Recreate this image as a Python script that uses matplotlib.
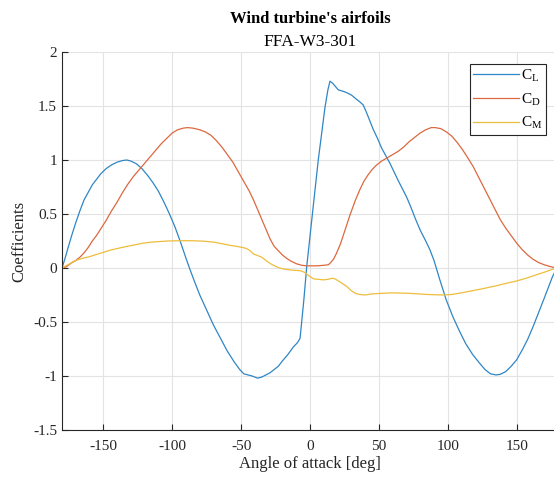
import numpy as np
import matplotlib
matplotlib.use('Agg')
import matplotlib.pyplot as plt

plt.rcParams['font.family'] = ['Liberation Serif', 'DejaVu Serif']
plt.rcParams['mathtext.fontset'] = 'custom'
plt.rcParams['mathtext.rm'] = 'Liberation Serif'
plt.rcParams['mathtext.it'] = 'Liberation Serif'
plt.rcParams['axes.unicode_minus'] = False

# lift coefficient
aoa_cl = [-180, -178, -176, -173, -170, -167, -164, -161, -158, -155, -152, -148, -144,
          -140, -136, -133, -130, -126, -122, -118, -114, -110, -106, -102, -98, -94,
          -90, -87.5, -84, -80, -75, -70, -65, -60, -55, -51, -48, -45, -42, -38, -35,
          -32, -29, -26, -23, -20, -16, -12, -9, -7.2, -4.5, -2.4, 2, 6, 10.9, 13,
          14.5, 16.5, 18.5, 20.5, 23, 25.4, 28, 30.2, 33, 36, 38.6, 41, 43.5, 46, 49,
          52, 55, 58, 61, 64, 67.6, 70, 73, 77, 80, 84, 87, 90, 94, 99, 104, 108.7,
          113, 118, 123, 127, 131, 135, 138, 142, 146, 150, 154, 158, 162, 166, 170,
          173, 176, 180]
cl = [0, 0.08, 0.17, 0.3, 0.42, 0.53, 0.63, 0.7, 0.77, 0.82, 0.87, 0.92, 0.955,
      0.98, 0.995, 1.0, 0.99, 0.965, 0.92, 0.86, 0.79, 0.71, 0.61, 0.5, 0.38, 0.24,
      0.09, 0.0, -0.12, -0.25, -0.39, -0.53, -0.65, -0.77, -0.87, -0.94, -0.98, -0.99, -1.0, -1.02, -1.01,
      -0.99, -0.97, -0.94, -0.91, -0.86, -0.8, -0.73, -0.69, -0.65, -0.3, 0.01, 0.53, 1.0, 1.49, 1.65,
      1.73, 1.71, 1.68, 1.65, 1.64, 1.63, 1.615, 1.6, 1.57, 1.54, 1.51, 1.44, 1.36, 1.28, 1.2,
      1.11, 1.04, 0.97, 0.89, 0.81, 0.72, 0.66, 0.57, 0.44, 0.35, 0.25, 0.17, 0.07, -0.1, -0.3, -0.46, -0.59,
      -0.7, -0.8, -0.88, -0.94, -0.98, -0.99, -0.985, -0.96, -0.91, -0.85, -0.76, -0.66, -0.54, -0.41, -0.28,
      -0.18, -0.08, 0.02]

# drag coefficient
aoa_cd = [-180, -177, -174, -170, -167, -164, -161, -158, -155, -152, -148, -144, -140,
          -136, -132, -128, -124, -120, -116, -112, -108, -104, -100, -96, -92, -89,
          -85, -80, -76, -72, -68, -64, -60, -56, -52, -48, -44, -41, -38, -35, -32,
          -29, -26, -23, -20, -17, -14, -10, -6, -2.4, 5, 10, 13.3, 15, 17, 19, 22,
          25.4, 29, 33, 36, 39, 42, 45, 48, 52, 56, 60, 64, 68, 72, 76, 80, 84, 88,
          91, 95, 99, 103, 107, 111, 115, 118.4, 122, 126, 130, 134, 138, 142, 146,
          150, 154, 158, 162, 166, 170, 174, 177, 180]
cd = [0, 0.01, 0.04, 0.07, 0.1, 0.14, 0.19, 0.25, 0.3, 0.36, 0.44, 0.53, 0.61,
      0.7, 0.78, 0.85, 0.91, 0.97, 1.03, 1.09, 1.15, 1.2, 1.25, 1.28, 1.295, 1.3,
      1.295, 1.28, 1.26, 1.23, 1.18, 1.12, 1.05, 0.98, 0.89, 0.8, 0.71, 0.63, 0.54, 0.45, 0.36,
      0.27, 0.2, 0.16, 0.12, 0.09, 0.065, 0.04, 0.025, 0.02, 0.02, 0.025, 0.03, 0.05, 0.08, 0.13, 0.22,
      0.35, 0.49, 0.63, 0.72, 0.8, 0.86, 0.91, 0.95, 0.99, 1.02, 1.05, 1.08, 1.12, 1.17, 1.21, 1.25, 1.28, 1.3,
      1.3, 1.29, 1.26, 1.22, 1.16, 1.09, 1.01, 0.94, 0.85, 0.75, 0.65, 0.55, 0.45, 0.37, 0.3,
      0.23, 0.17, 0.12, 0.08, 0.05, 0.03, 0.015, 0.005, 0]

# moment coefficient
aoa_cm = [-180, -175, -170, -165, -160, -155, -150, -145, -140, -133, -127, -121, -115,
          -109, -103, -97, -90, -84, -77, -70, -64, -58, -53, -49, -46, -43.5, -41,
          -38, -35, -33, -31, -28, -25, -22, -19, -13, -7, -4, -1, 2.4, 6, 9.7, 13,
          16, 18, 20, 23, 26.6, 30, 33, 36, 40, 45, 51, 60, 72.5, 85, 96, 103, 110,
          118, 126, 135, 143, 150, 158, 165, 171, 176, 180]
cm = [0, 0.035, 0.07, 0.09, 0.105, 0.125, 0.145, 0.165, 0.18, 0.2, 0.215, 0.23, 0.24,
      0.245, 0.25, 0.252, 0.253, 0.252, 0.248, 0.24, 0.225, 0.21, 0.2, 0.19, 0.18, 0.16, 0.13,
      0.115, 0.1, 0.08, 0.06, 0.035, 0.015, 0.0, -0.01, -0.02, -0.025, -0.04, -0.07, -0.1, -0.105, -0.11, -0.105,
      -0.095, -0.1, -0.115, -0.14, -0.17, -0.21, -0.235, -0.245, -0.25, -0.24, -0.235, -0.23, -0.235, -0.245, -0.25, -0.245, -0.23,
      -0.21, -0.19, -0.165, -0.14, -0.12, -0.09, -0.06, -0.035, -0.012, 0]

xticks = [-150, -100, -50, 0, 50, 100, 150]
yticks = [-1.5, -1, -0.5, 0, 0.5, 1, 1.5, 2]
ytick_labels = ['-1.5', '-1', '-0.5', '0', '0.5', '1', '1.5', '2']

fig = plt.figure(figsize=(5.54, 4.78), dpi=100)
ax = fig.add_axes([62/554, 48/478, 496/554, 378/478])

ax.plot(aoa_cl, cl, color='#2f86c6', lw=0.9, label=r'C$_\mathrm{L}$')
ax.plot(aoa_cd, cd, color='#dc6840', lw=0.9, label=r'C$_\mathrm{D}$')
ax.plot(aoa_cm, cm, color='#edbd3c', lw=0.9, label=r'C$_\mathrm{M}$')

ax.set_xlim(-180, 180)
ax.set_ylim(-1.5, 2)
ax.set_xticks(xticks)
ax.set_yticks(yticks)
ax.set_yticklabels(ytick_labels)
ax.grid(True, color='#e3e3e3', lw=0.8)
ax.set_axisbelow(True)
for s in ['top', 'right']:
    ax.spines[s].set_visible(False)
for s in ['left', 'bottom']:
    ax.spines[s].set_color('#262626')
    ax.spines[s].set_linewidth(0.8)
ax.tick_params(direction='in', length=4, width=0.8, colors='#262626', labelsize=11)
ax.tick_params(axis='x', pad=7)

ax.set_xlabel('Angle of attack [deg]', fontsize=12, color='#262626', labelpad=2)
ax.set_ylabel('Coefficients', fontsize=12, color='#262626', labelpad=4)

ax.text(310/554, 1 - 19/478, "Wind turbine's airfoils", transform=fig.transFigure,
        ha='center', va='center', fontsize=12, fontweight='bold', color='black')
ax.text(310/554, 1 - 42/478, 'FFA-W3-301', transform=fig.transFigure,
        ha='center', va='center', fontsize=12.5, color='black')

leg = ax.legend(loc='upper right', bbox_to_anchor=(546/554, 1 - 64/478),
                bbox_transform=fig.transFigure, fontsize=11, handlelength=3.0,
                fancybox=False, framealpha=1, edgecolor='#262626',
                borderaxespad=0, borderpad=0.25, labelspacing=0.5, handletextpad=0.1)
leg.get_frame().set_linewidth(0.8)

fig.savefig('out.png', dpi=100)
